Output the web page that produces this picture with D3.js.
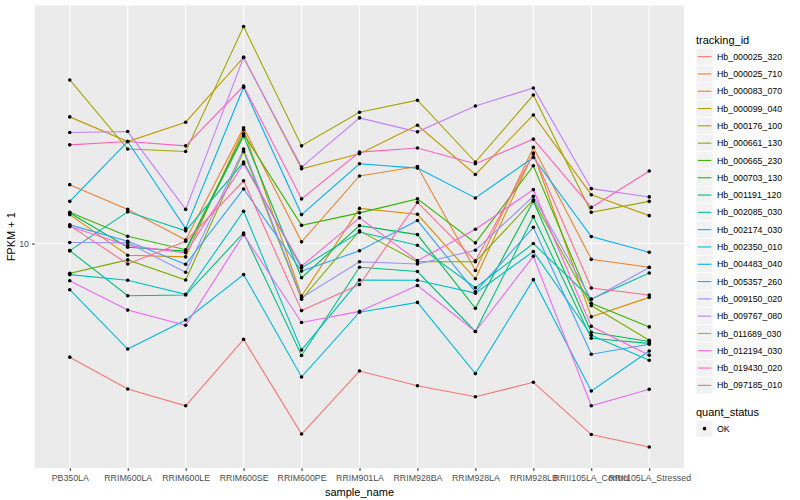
<!DOCTYPE html>
<html>
<head>
<meta charset="utf-8">
<script src="https://cdn.jsdelivr.net/npm/d3@7"></script>
<style>
  body { margin: 0; background: #fff; }
  text { font-family: "Liberation Sans", Arial, sans-serif; }
</style>
</head>
<body>
<div id="chart"></div>
<script>
// samples on the x axis
var samples = ["PB350LA", "RRIM600LA", "RRIM600LE", "RRIM600SE", "RRIM600PE", "RRIM901LA",
  "RRIM928BA", "RRIM928LA", "RRIM928LB", "RRII105LA_Control", "RRII105LA_Stressed"];

// FPKM + 1 per transcript, one value per sample
var hb_000025_320 = [5.19, 4.32, 3.92, 5.75, 3.33, 4.79, 4.40, 4.13, 4.49, 3.32, 3.09];
var hb_000025_710 = [14.05, 12.18, 10.21, 19.51, 10.10, 14.77, 15.60, 8.56, 17.42, 9.13, 8.72];
var hb_000083_070 = [11.82, 9.35, 9.26, 19.29, 7.39, 12.25, 11.84, 8.16, 16.86, 6.55, 7.33];
var hb_000099_040 = [20.78, 18.02, 20.15, 29.29, 15.40, 16.79, 19.80, 14.90, 21.01, 13.26, 11.75];
var hb_000176_100 = [25.72, 17.26, 17.01, 35.01, 17.58, 21.34, 22.88, 16.01, 23.57, 11.98, 12.76];
var hb_000661_130 = [8.42, 9.10, 8.10, 17.01, 7.25, 10.76, 9.00, 9.00, 12.86, 6.99, 5.72];
var hb_000665_230 = [11.98, 10.43, 9.65, 18.84, 11.11, 11.94, 12.94, 10.04, 15.67, 7.08, 6.18];
var hb_000703_130 = [11.93, 9.79, 9.57, 18.62, 8.21, 11.09, 10.53, 6.88, 12.76, 5.99, 5.68];
var hb_001191_120 = [9.60, 7.40, 7.43, 10.63, 5.24, 8.72, 8.51, 6.02, 11.68, 5.79, 5.62];
var hb_002085_030 = [9.60, 12.01, 10.76, 16.01, 8.69, 10.69, 9.90, 7.75, 10.00, 7.26, 8.44];
var hb_002174_030 = [8.36, 8.09, 7.46, 12.05, 5.41, 8.10, 8.09, 7.51, 9.55, 5.89, 5.10];
var hb_002350_010 = [7.66, 5.44, 6.43, 8.36, 4.63, 6.73, 7.12, 4.72, 8.12, 4.27, 5.38];
var hb_004483_040 = [12.76, 18.02, 10.90, 24.66, 11.82, 15.85, 15.46, 13.01, 16.44, 10.41, 9.51];
var hb_005357_260 = [11.14, 10.13, 8.87, 13.70, 8.53, 9.59, 11.42, 7.57, 10.98, 5.28, 5.59];
var hb_009150_020 = [10.06, 10.04, 8.47, 17.26, 7.32, 9.00, 8.89, 9.62, 13.13, 7.24, 8.71];
var hb_009767_080 = [18.98, 19.09, 12.18, 29.29, 15.55, 20.66, 19.06, 22.13, 24.56, 13.73, 13.09];
var hb_011689_030 = [8.07, 6.81, 6.24, 10.53, 6.34, 6.76, 7.85, 6.02, 9.29, 3.92, 4.31];
var hb_012194_030 = [11.03, 9.89, 9.48, 15.85, 8.78, 11.60, 9.06, 10.86, 13.65, 6.20, 5.25];
var hb_019430_020 = [17.68, 18.02, 17.58, 24.83, 12.94, 16.95, 17.36, 15.85, 18.27, 12.32, 15.20];
var hb_097185_010 = [11.09, 8.89, 10.13, 14.37, 6.79, 7.89, 12.68, 9.05, 16.76, 7.74, 7.43];

var trackingIds = ["Hb_000025_320", "Hb_000025_710", "Hb_000083_070", "Hb_000099_040", "Hb_000176_100",
  "Hb_000661_130", "Hb_000665_230", "Hb_000703_130", "Hb_001191_120", "Hb_002085_030",
  "Hb_002174_030", "Hb_002350_010", "Hb_004483_040", "Hb_005357_260", "Hb_009150_020",
  "Hb_009767_080", "Hb_011689_030", "Hb_012194_030", "Hb_019430_020", "Hb_097185_010"];
var seriesValues = [hb_000025_320, hb_000025_710, hb_000083_070, hb_000099_040, hb_000176_100,
  hb_000661_130, hb_000665_230, hb_000703_130, hb_001191_120, hb_002085_030,
  hb_002174_030, hb_002350_010, hb_004483_040, hb_005357_260, hb_009150_020,
  hb_009767_080, hb_011689_030, hb_012194_030, hb_019430_020, hb_097185_010];

var yTicks = [10];
var quantStatus = ["OK"];

// ggplot default hue palette for 20 levels
var palette = ["#F8766D", "#EA8331", "#D89000", "#C09B00", "#A3A500", "#7CAE00", "#39B600", "#00BB4E",
  "#00BF7D", "#00C1A3", "#00BFC4", "#00BAE0", "#00B0F6", "#35A2FF", "#9590FF", "#C77CFF",
  "#E76BF3", "#FA62DB", "#FF62BC", "#FF6C91"];

var svgWidth = 800, svgHeight = 500;
var panel = { left: 35, right: 684, top: 5.5, bottom: 468 };

var svg = d3.select("#chart").append("svg")
  .attr("width", svgWidth)
  .attr("height", svgHeight);

var series = trackingIds.map((id, i) => ({
  id: id,
  color: palette[i],
  values: seriesValues[i].map((v, j) => ({ sample: samples[j], value: v }))
}));

// discrete x with ggplot's 0.6 expansion
var step = (panel.right - panel.left) / (samples.length - 1 + 1.2);
var xScale = d3.scalePoint()
  .domain(samples)
  .range([panel.left + 0.6 * step, panel.right - 0.6 * step]);

// log y with 5% expansion of the log range
var allVals = seriesValues.flat();
var lo = Math.log10(d3.min(allVals)), hi = Math.log10(d3.max(allVals));
var pad = (hi - lo) * 0.05;
var yScale = d3.scaleLog()
  .domain([Math.pow(10, lo - pad), Math.pow(10, hi + pad)])
  .range([panel.bottom, panel.top]);

// panel background and grid
svg.append("rect")
  .attr("x", panel.left).attr("y", panel.top)
  .attr("width", panel.right - panel.left).attr("height", panel.bottom - panel.top)
  .attr("fill", "#EBEBEB");

svg.append("g").selectAll("line")
  .data(samples)
  .join("line")
  .attr("x1", d => xScale(d)).attr("x2", d => xScale(d))
  .attr("y1", panel.top).attr("y2", panel.bottom)
  .attr("stroke", "#fff").attr("stroke-width", 1.1);

svg.append("g").selectAll("line")
  .data(yTicks)
  .join("line")
  .attr("x1", panel.left).attr("x2", panel.right)
  .attr("y1", d => yScale(d)).attr("y2", d => yScale(d))
  .attr("stroke", "#fff").attr("stroke-width", 1.1);

// lines
var line = d3.line()
  .x(d => xScale(d.sample))
  .y(d => yScale(d.value));

svg.append("g").selectAll("path")
  .data(series)
  .join("path")
  .attr("d", d => line(d.values))
  .attr("fill", "none")
  .attr("stroke", d => d.color)
  .attr("stroke-width", 1.1);

// points
svg.append("g").selectAll("g")
  .data(series)
  .join("g")
  .selectAll("circle")
  .data(d => d.values)
  .join("circle")
  .attr("cx", d => xScale(d.sample))
  .attr("cy", d => yScale(d.value))
  .attr("r", 1.8)
  .attr("fill", "#000");

// axes
var xAxis = d3.axisBottom(xScale).tickSize(3).tickPadding(4);
var gx = svg.append("g")
  .attr("transform", `translate(0, ${panel.bottom})`)
  .call(xAxis);
gx.select(".domain").remove();
gx.selectAll("line").attr("stroke", "#333");
gx.selectAll("text").attr("fill", "#4D4D4D").attr("font-size", "8.8px")
  .attr("font-family", "Liberation Sans, Arial, sans-serif");

var yAxis = d3.axisLeft(yScale).tickValues(yTicks).tickFormat(d3.format("d")).tickSize(3).tickPadding(3);
var gy = svg.append("g")
  .attr("transform", `translate(${panel.left}, 0)`)
  .call(yAxis);
gy.select(".domain").remove();
gy.selectAll("line").attr("stroke", "#333");
gy.selectAll("text").attr("fill", "#4D4D4D").attr("font-size", "8.8px")
  .attr("font-family", "Liberation Sans, Arial, sans-serif");

// axis titles
svg.append("text")
  .attr("x", (panel.left + panel.right) / 2)
  .attr("y", 496)
  .attr("text-anchor", "middle")
  .attr("font-size", "11px")
  .text("sample_name");

svg.append("text")
  .attr("transform", `translate(15, ${(panel.top + panel.bottom) / 2}) rotate(-90)`)
  .attr("text-anchor", "middle")
  .attr("font-size", "11px")
  .text("FPKM + 1");

// legend: tracking_id
var legend = svg.append("g").attr("transform", "translate(696, 0)");
legend.append("text")
  .attr("x", 0).attr("y", 44)
  .attr("font-size", "11px")
  .text("tracking_id");

var keyH = 17.3;
var keys = legend.selectAll("g.key")
  .data(series)
  .join("g")
  .attr("class", "key")
  .attr("transform", (d, i) => `translate(0, ${48 + i * keyH})`);
keys.append("rect")
  .attr("width", 17).attr("height", keyH)
  .attr("fill", "#F2F2F2").attr("stroke", "#fff").attr("stroke-width", 0.8);
keys.append("line")
  .attr("x1", 1.7).attr("x2", 15.3)
  .attr("y1", keyH / 2).attr("y2", keyH / 2)
  .attr("stroke", d => d.color).attr("stroke-width", 1.1);
keys.append("text")
  .attr("x", 21).attr("y", keyH / 2 + 3.1)
  .attr("font-size", "8.8px")
  .text(d => d.id);

// legend: quant_status
legend.append("text")
  .attr("x", 0).attr("y", 415.5)
  .attr("font-size", "11px")
  .text("quant_status");
var qk = legend.selectAll("g.qkey")
  .data(quantStatus)
  .join("g")
  .attr("class", "qkey")
  .attr("transform", (d, i) => `translate(0, ${420 + i * keyH})`);
qk.append("rect")
  .attr("width", 17).attr("height", keyH)
  .attr("fill", "#F2F2F2").attr("stroke", "#fff").attr("stroke-width", 0.8);
qk.append("circle")
  .attr("cx", 8.5).attr("cy", keyH / 2).attr("r", 1.8).attr("fill", "#000");
qk.append("text")
  .attr("x", 21).attr("y", keyH / 2 + 3.1)
  .attr("font-size", "8.8px")
  .text(d => d);
</script>
</body>
</html>
